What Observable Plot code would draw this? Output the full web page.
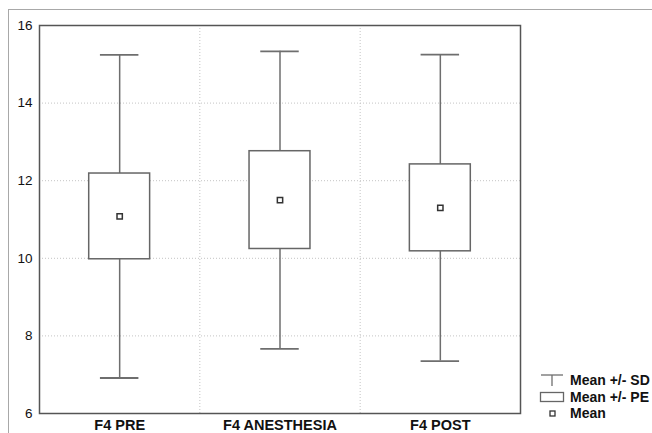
<!DOCTYPE html>
<html><head><meta charset="utf-8">
<script src="https://cdn.jsdelivr.net/npm/d3@7"></script>
<script src="https://cdn.jsdelivr.net/npm/@observablehq/plot@0.6"></script>
<style>
html,body{margin:0;padding:0;width:652px;height:433px;overflow:hidden;background:#fff;font-family:Arial,"Liberation Sans",sans-serif;}
#wrap{position:relative;width:652px;height:433px;}
#outer{position:absolute;left:8px;top:9px;width:700px;height:500px;border-top:1.5px solid #a8a8a8;border-left:1.5px solid #a8a8a8;}
#chart{position:absolute;left:0;top:0;}
#legend{position:absolute;left:539px;top:372px;white-space:nowrap;font:bold 14px Arial,"Liberation Sans",sans-serif;color:#111;}
#legend .row{height:16.5px;line-height:16.5px;display:flex;align-items:center;}
#legend svg{width:26px;height:14px;margin-right:5px;flex:none;}
</style>
</head><body>
<div id="wrap"><div id="outer"></div><div id="chart"></div><div id="legend"></div></div>
<script>
const categories = ["F4 PRE", "F4 ANESTHESIA", "F4 POST"];
const means = [11.08, 11.50, 11.30];
const se = [1.105, 1.26, 1.12];
const sd = [4.165, 3.835, 3.95];
const yTicks = [6, 8, 10, 12, 14, 16];
const legendLabels = ["Mean +/- SD", "Mean +/- PE", "Mean"];

const idx = d3.range(categories.length);
const seps = d3.range(1, categories.length).map(i => i - 0.5);
const boxHalf = 0.19, capHalf = 0.12;

const plot = Plot.plot({
  width: 652, height: 433,
  marginLeft: 39, marginRight: 132, marginTop: 25, marginBottom: 20,
  style: {fontFamily: 'Arial, "Liberation Sans", sans-serif', fontSize: "13px", color: "#111", background: "transparent"},
  x: {domain: [-0.5, categories.length - 0.5], ticks: idx, tickFormat: i => categories[i], tickSize: 0, tickPadding: 6, label: null},
  y: {domain: [6, 16], ticks: yTicks, tickSize: 0, tickPadding: 7, label: null},
  marks: [
    Plot.ruleY(yTicks, {stroke: "#c4c4c4", strokeDasharray: "1,2"}),
    Plot.ruleX(seps, {stroke: "#c4c4c4", strokeDasharray: "1,2"}),
    Plot.ruleX(idx, {x: i => i, y1: i => means[i] - sd[i], y2: i => means[i] + sd[i], stroke: "#6e6e6e", strokeWidth: 1.5}),
    Plot.ruleY(idx, {y: i => means[i] + sd[i], x1: i => i - capHalf, x2: i => i + capHalf, stroke: "#6e6e6e", strokeWidth: 1.8}),
    Plot.ruleY(idx, {y: i => means[i] - sd[i], x1: i => i - capHalf, x2: i => i + capHalf, stroke: "#6e6e6e", strokeWidth: 1.8}),
    Plot.rect(idx, {x1: i => i - boxHalf, x2: i => i + boxHalf, y1: i => means[i] - se[i], y2: i => means[i] + se[i], fill: "white", stroke: "#666", strokeWidth: 1.5}),
    Plot.dot(idx, {x: i => i, y: i => means[i], symbol: "square", r: 3, fill: "white", stroke: "#333", strokeWidth: 1.5}),
    Plot.frame({stroke: "#555", strokeWidth: 1.5})
  ]
});
document.getElementById("chart").appendChild(plot);
d3.select(plot).selectAll("text").each(function() {
  const s = d3.select(this);
  if (categories.includes(this.textContent)) {
    s.style("font-weight", "bold").style("font-size", "14.5px").style("fill", "#111");
  } else {
    s.style("font-size", "13.5px").style("fill", "#111");
  }
});

const icons = [
  '<svg viewBox="0 0 26 14"><line x1="2" y1="2" x2="24" y2="2" stroke="#6e6e6e" stroke-width="1.3"/><line x1="13" y1="2" x2="13" y2="13" stroke="#6e6e6e" stroke-width="1.3"/></svg>',
  '<svg viewBox="0 0 26 14"><rect x="1.5" y="2.5" width="23" height="9" fill="white" stroke="#666" stroke-width="1.3"/></svg>',
  '<svg viewBox="0 0 26 14"><rect x="11" y="5" width="5" height="5" fill="white" stroke="#333" stroke-width="1.3"/></svg>'
];
const leg = d3.select("#legend");
legendLabels.forEach((t, i) => {
  const r = leg.append("div").attr("class", "row");
  r.html(icons[i]);
  r.append("span").text(t);
});
</script>
</body></html>
